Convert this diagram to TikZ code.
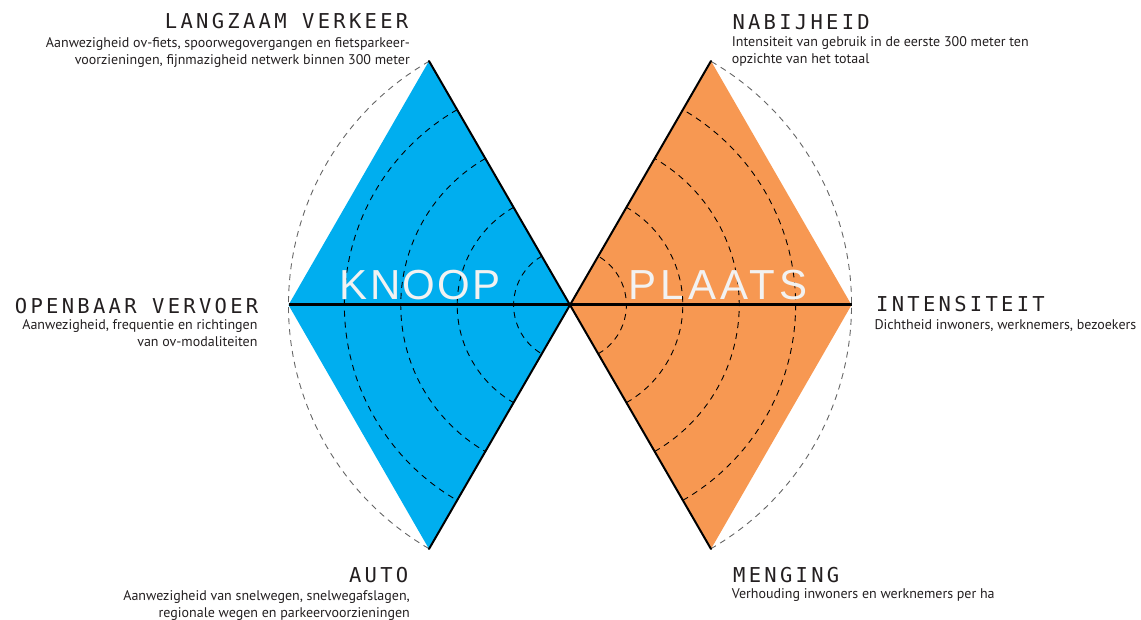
\documentclass[tikz,border=0pt]{standalone}
\usepackage{fontspec}
\setmainfont{PT Sans}
\newfontfamily\headfont[LetterSpace=16]{DejaVu Sans Mono}
\newfontfamily\knoopfont[LetterSpace=5]{Liberation Sans}
\newfontfamily\plaatsfont[LetterSpace=10]{Liberation Sans}
\definecolor{knoopblue}{RGB}{0,174,239}
\definecolor{plaatsorange}{RGB}{247,152,82}
\definecolor{inktext}{RGB}{35,31,32}
\definecolor{bigtext}{RGB}{242,242,242}

\begin{document}
\begin{tikzpicture}[x=1pt,y=1pt,
  heading/.style={inner sep=0pt, font=\headfont\fontsize{20.5}{24}\selectfont, text=inktext},
  desc/.style={inner sep=0pt, font=\fontsize{14}{17}\selectfont, text=inktext},
  bigword/.style={inner sep=0pt, text=bigtext, anchor=base},
  ring/.style={dashed, dash pattern=on 6pt off 5pt, line width=0.9pt, draw=black},
  outerring/.style={dashed, dash pattern=on 6pt off 5pt, line width=0.9pt, draw=black!60},
  axisline/.style={line width=3pt, draw=black},
  edgeline/.style={line width=2pt, draw=black, line cap=round}]

\useasboundingbox (0,0) rectangle (1141,619);

% centre and diamond corners
\coordinate (C)  at (570,314);
\coordinate (LT) at (429,558);
\coordinate (LB) at (429,70);
\coordinate (LL) at (288.5,314);
\coordinate (RT) at (711,558);
\coordinate (RB) at (711,70);
\coordinate (RR) at (851.5,314);

% the two diamonds
\fill[knoopblue] (C) -- (LT) -- (LL) -- (LB) -- cycle;
\fill[plaatsorange] (C) -- (RT) -- (RR) -- (RB) -- cycle;

% distance rings
\foreach \r in {56.4,112.8,169.2,225.6} {
  \draw[ring] (C) ++(120:\r) arc[start angle=120, end angle=240, radius=\r];
  \draw[ring] (C) ++(-60:\r) arc[start angle=-60, end angle=60, radius=\r];
}
\draw[outerring] (C) ++(120:281.5) arc[start angle=120, end angle=240, radius=281.5];
\draw[outerring] (C) ++(-60:281.5) arc[start angle=-60, end angle=60, radius=281.5];

% axes
\draw[axisline] (LL) -- (RR);
\draw[edgeline] (LT) -- (C) -- (LB);
\draw[edgeline] (RT) -- (C) -- (RB);

% big labels
\node[bigword, font=\knoopfont\fontsize{42}{44}\selectfont] (knoop) at (420,319) {KNOOP};
\node[bigword, font=\plaatsfont\fontsize{42}{44}\selectfont] (plaats) at (718,319) {PLAATS};

% corner labels (multi-line descriptions sit on the baseline of their last line)
\node[heading, anchor=base east] (langzaam) at (408.5,590.7) {LANGZAAM VERKEER};
\node[desc, anchor=base east, align=right] (langzaamtxt) at (410,554.5)
  {Aanwezigheid ov-fiets, spoorwegovergangen en fietsparkeer-\\voorzieningen, fijnmazigheid netwerk binnen 300 meter};

\node[heading, anchor=base west] (nabijheid) at (732.3,589.7) {NABIJHEID};
\node[desc, anchor=base west, align=left] (nabijheidtxt) at (731.7,555)
  {Intensiteit van gebruik in de eerste 300 meter ten\\opzichte van het totaal};

\node[heading, anchor=base east] (ov) at (258.5,305.7) {OPENBAAR VERVOER};
\node[desc, anchor=base east, align=right] (ovtxt) at (257.7,272)
  {Aanwezigheid, frequentie en richtingen\\van ov-modaliteiten};

\node[heading, anchor=base west] (intensiteit) at (876,307.3) {INTENSITEIT};
\node[desc, anchor=base west, align=left] (intensiteittxt) at (874.3,289.7)
  {Dichtheid inwoners, werknemers, bezoekers};

\node[heading, anchor=base east] (auto) at (408.5,36.3) {AUTO};
\node[desc, anchor=base east, align=right] (autotxt) at (410,2)
  {Aanwezigheid van snelwegen, snelwegafslagen,\\regionale wegen en parkeervoorzieningen};

\node[heading, anchor=base west] (menging) at (733,36.7) {MENGING};
\node[desc, anchor=base west, align=left] (mengingtxt) at (731.7,20.7)
  {Verhouding inwoners en werknemers per ha};

\end{tikzpicture}
\end{document}
